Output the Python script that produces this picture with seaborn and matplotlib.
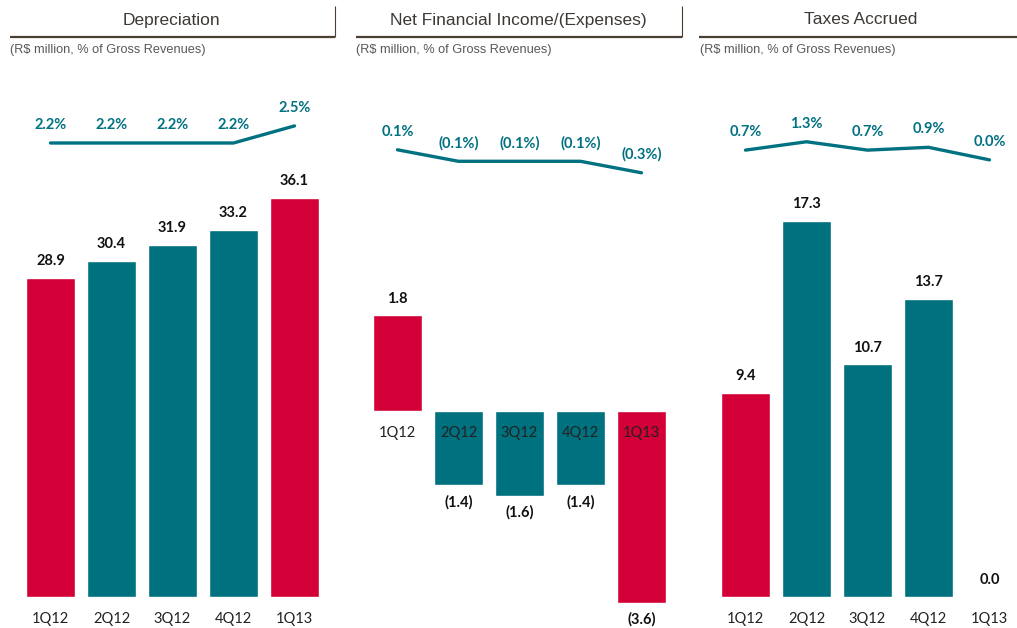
import numpy as np
import pandas as pd
import seaborn as sns
import matplotlib.pyplot as plt
from matplotlib.lines import Line2D

sns.set_theme(style="white")
plt.rcParams['font.family'] = ['Lato', 'DejaVu Sans']

# data
quarters = ["1Q12", "2Q12", "3Q12", "4Q12", "1Q13"]
bar_colors = ["#D20037", "#00717F", "#00717F", "#00717F", "#D20037"]
titles = ["Depreciation", "Net Financial Income/(Expenses)", "Taxes Accrued"]
subtitle = "(R$ million, % of Gross Revenues)"

dep_values = [28.9, 30.4, 31.9, 33.2, 36.1]
dep_pct = [2.2, 2.2, 2.2, 2.2, 2.5]
fin_values = [1.8, -1.4, -1.6, -1.4, -3.6]
fin_pct = [0.1, -0.1, -0.1, -0.1, -0.3]
tax_values = [9.4, 17.3, 10.7, 13.7, 0.0]
tax_pct = [0.7, 1.3, 0.7, 0.9, 0.0]

W, H = 1017, 628
LINE_COLOR = "#007181"
RULE_COLOR = "#4A3F35"

fig = plt.figure(figsize=(W / 100, H / 100), dpi=100)


def px_axes(left, top, width, height):
    return fig.add_axes([left / W, 1 - (top + height) / H, width / W, height / H])


def fmt(v, pct=False):
    s = f"{abs(v):.1f}" + ("%" if pct else "")
    return f"({s})" if v < 0 else s


def fig_line(x0, y0, x1, y1, lw):
    fig.add_artist(Line2D([x0 / W, x1 / W], [1 - y0 / H, 1 - y1 / H],
                          transform=fig.transFigure, color=RULE_COLOR, lw=lw,
                          solid_capstyle="butt"))


# (bar values, pct values, first bar centre px, bar ylim, bar top px, bar height px,
#  line ylim, line top px, line height px)
panels = [
    (dep_values, dep_pct, 50.5, (0, 38), 177.1, 419.9, (1.8, 2.8), 108.8, 57.0),
    (fin_values, fin_pct, 397.5, (-4, 2.2), 294.0, 329.8, (-0.5, 0.3), 138.3, 46.0),
    (tax_values, tax_pct, 745.5, (0, 18.5), 194.6, 402.4, (-0.5, 2.0), 132.0, 34.85),
]

for i, (vals, pcts, c0, bylim, btop, bh, lylim, ltop, lh) in enumerate(panels):
    left = c0 - 0.4 * 61
    width = 4.8 * 61

    # bars
    ax = px_axes(left, btop, width, bh)
    ax.patch.set_alpha(0)
    sns.barplot(x=quarters, y=vals, hue=quarters, palette=bar_colors, legend=False,
                ax=ax, width=0.8, saturation=1)
    ax.set_xlim(-0.4, 4.4)
    ax.set_ylim(*bylim)
    ax.set_xlabel("")
    ax.set_ylabel("")
    ax.set_yticks([])
    for sp in ax.spines.values():
        sp.set_visible(False)
    ax.spines["bottom"].set_position(("data", 0))
    ax.set_axisbelow(False)
    ax.xaxis.set_zorder(5)
    ax.tick_params(axis="x", length=0, pad=11, labelsize=10.5, labelcolor="#222222")
    for j, v in enumerate(vals):
        off = 12 if v >= 0 else -12
        ax.annotate(fmt(v), (j, v), xytext=(0, off), textcoords="offset points",
                    ha="center", va="center", fontsize=10.5, fontweight="bold",
                    color="#111111")

    # percentage line
    lax = px_axes(left, ltop, width, lh)
    lax.patch.set_alpha(0)
    sns.lineplot(x=list(range(5)), y=pcts, ax=lax, color=LINE_COLOR, linewidth=2.4,
                 sort=False)
    lax.set_xlim(-0.4, 4.4)
    lax.set_ylim(*lylim)
    lax.axis("off")
    for j, v in enumerate(pcts):
        lax.annotate(fmt(v, pct=True), (j, v), xytext=(0, 13), textcoords="offset points",
                     ha="center", va="center", fontsize=10.5, fontweight="bold",
                     color=LINE_COLOR)

# titles, rules and subtitles
title_x = [171.5, 518, 861]
rule_x = [(10, 335), (356, 682), (699, 1017)]
sub_x = [10, 356, 700]
for i in range(3):
    fig.text(title_x[i] / W, 1 - 20 / H, titles[i], ha="center", va="center",
             fontsize=12.5, color="#3D3935", family=["Liberation Sans", "DejaVu Sans"])
    fig_line(rule_x[i][0], 36.5, rule_x[i][1], 36.5, 1.6)
    fig.text(sub_x[i] / W, 1 - 50 / H, subtitle, ha="left", va="center",
             fontsize=9.2, color="#595959", family=["Liberation Sans", "DejaVu Sans"])
fig_line(335, 6, 335, 37, 0.8)
fig_line(682, 6, 682, 37, 0.8)

plt.savefig("out.png", dpi=100)
